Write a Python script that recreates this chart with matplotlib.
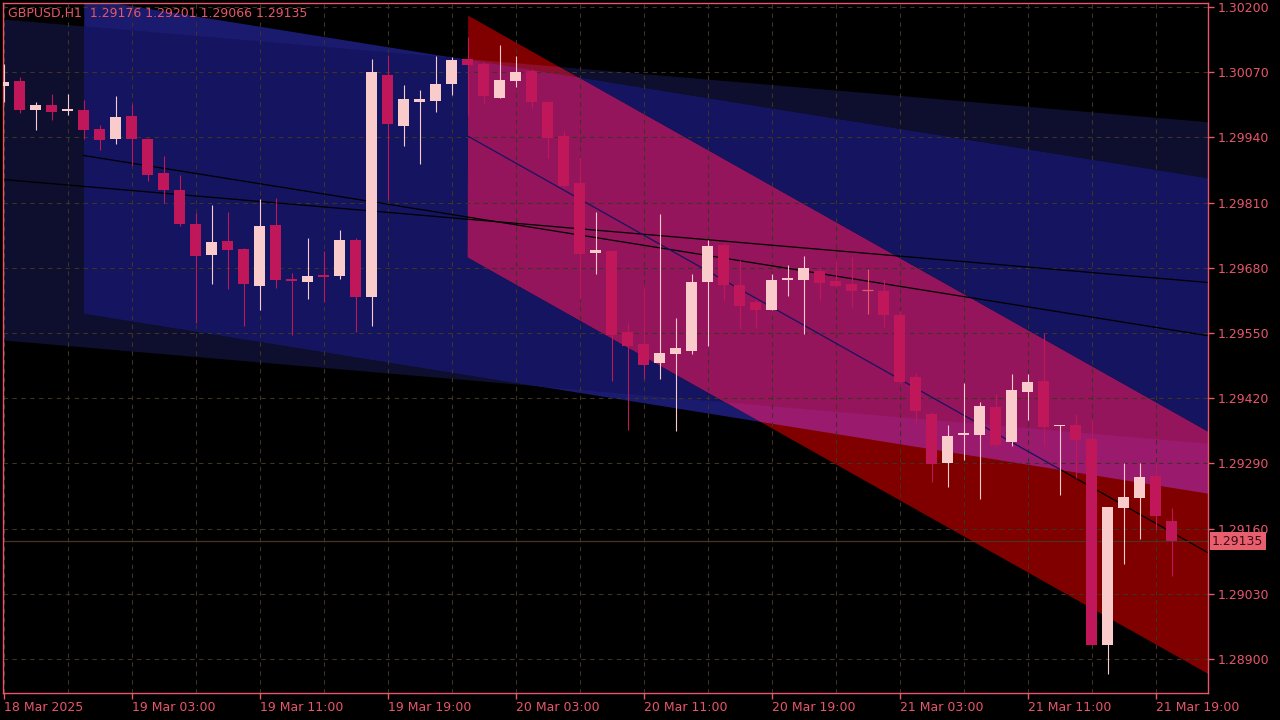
import numpy as np
import matplotlib
matplotlib.use("Agg")
import matplotlib.pyplot as plt
from matplotlib.ticker import MultipleLocator, FixedLocator

# --- data (H1 bars, 18 Mar 2025 19:00 -> 21 Mar 2025 20:00) ---
symbol = "GBPUSD,H1"

opens = [1.30043, 1.30052, 1.29995, 1.30005, 1.29993, 1.29995, 1.29957, 1.29937, 1.29983, 1.29937,
         1.29869, 1.29835, 1.29767, 1.29706, 1.29733, 1.29718, 1.29644, 1.29765, 1.29658, 1.29652,
         1.29666, 1.29664, 1.29735, 1.29622, 1.30064, 1.29963, 1.30011, 1.30013, 1.30047, 1.30096,
         1.30086, 1.30019, 1.30052, 1.30072, 1.30011, 1.29943, 1.29849, 1.29710, 1.29714, 1.29552,
         1.29528, 1.29490, 1.29508, 1.29514, 1.29652, 1.29726, 1.29646, 1.29612, 1.29596, 1.29656,
         1.29656, 1.29674, 1.29654, 1.29648, 1.29635, 1.29634, 1.29586, 1.29462, 1.29388, 1.29291,
         1.29347, 1.29347, 1.29402, 1.29333, 1.29432, 1.29454, 1.29364, 1.29367, 1.29339, 1.28928,
         1.29201, 1.29221, 1.29265, 1.29176]
highs = [1.30086, 1.30060, 1.30011, 1.30027, 1.30027, 1.30015, 1.29965, 1.30023, 1.30007, 1.29939,
         1.29903, 1.29865, 1.29789, 1.29805, 1.29791, 1.29720, 1.29817, 1.29819, 1.29670, 1.29739,
         1.29714, 1.29755, 1.29739, 1.30096, 1.30104, 1.30045, 1.30035, 1.30102, 1.30100, 1.30140,
         1.30090, 1.30124, 1.30102, 1.30076, 1.30012, 1.29953, 1.29901, 1.29791, 1.29716, 1.29570,
         1.29640, 1.29787, 1.29580, 1.29668, 1.29735, 1.29730, 1.29696, 1.29618, 1.29668, 1.29686,
         1.29704, 1.29680, 1.29694, 1.29702, 1.29678, 1.29658, 1.29594, 1.29470, 1.29392, 1.29367,
         1.29450, 1.29412, 1.29428, 1.29468, 1.29468, 1.29550, 1.29367, 1.29388, 1.29377, 1.29203,
         1.29291, 1.29291, 1.29289, 1.29201]
lows = [1.30011, 1.29989, 1.29955, 1.29975, 1.29985, 1.29937, 1.29915, 1.29927, 1.29885, 1.29853,
        1.29809, 1.29763, 1.29570, 1.29648, 1.29638, 1.29564, 1.29596, 1.29640, 1.29546, 1.29618,
        1.29612, 1.29658, 1.29552, 1.29564, 1.29815, 1.29923, 1.29887, 1.29991, 1.30025, 1.29985,
        1.30009, 1.30018, 1.30041, 1.29999, 1.29899, 1.29842, 1.29618, 1.29668, 1.29454, 1.29357,
        1.29458, 1.29458, 1.29355, 1.29508, 1.29524, 1.29616, 1.29558, 1.29560, 1.29595, 1.29624,
        1.29548, 1.29616, 1.29642, 1.29602, 1.29588, 1.29562, 1.29450, 1.29371, 1.29253, 1.29243,
        1.29297, 1.29219, 1.29321, 1.29325, 1.29377, 1.29325, 1.29227, 1.29261, 1.28927, 1.28870,
        1.29089, 1.29139, 1.29157, 1.29066]
closes = [1.30050, 1.29995, 1.30005, 1.29991, 1.29997, 1.29955, 1.29935, 1.29981, 1.29937, 1.29865,
          1.29835, 1.29767, 1.29704, 1.29731, 1.29716, 1.29648, 1.29763, 1.29656, 1.29654, 1.29664,
          1.29662, 1.29735, 1.29622, 1.30070, 1.29967, 1.30017, 1.30017, 1.30047, 1.30094, 1.30084,
          1.30023, 1.30055, 1.30070, 1.30011, 1.29939, 1.29843, 1.29708, 1.29716, 1.29546, 1.29524,
          1.29486, 1.29510, 1.29520, 1.29652, 1.29724, 1.29646, 1.29604, 1.29596, 1.29656, 1.29660,
          1.29680, 1.29650, 1.29644, 1.29634, 1.29635, 1.29586, 1.29452, 1.29394, 1.29289, 1.29345,
          1.29351, 1.29404, 1.29327, 1.29436, 1.29452, 1.29363, 1.29365, 1.29337, 1.28928, 1.29203,
          1.29223, 1.29263, 1.29185, 1.29135]

time_labels = ["18 Mar 2025", "19 Mar 03:00", "19 Mar 11:00", "19 Mar 19:00", "20 Mar 03:00",
               "20 Mar 11:00", "20 Mar 19:00", "21 Mar 03:00", "21 Mar 11:00", "21 Mar 19:00"]
price_ticks = [1.28900, 1.29030, 1.29160, 1.29290, 1.29420, 1.29550,
               1.29680, 1.29810, 1.29940, 1.30070, 1.30200]

# regression channels: first bar, two anchor bars, upper/lower prices at the anchors
chan_from = [-1, 5, 29]
chan_bar0 = [0, 5, 29]
chan_bar1 = [75, 75, 75]
chan_up0 = [1.30176, 1.30218, 1.30184]
chan_up1 = [1.29972, 1.29860, 1.29358]
chan_lo0 = [1.29536, 1.29590, 1.29702]
chan_lo1 = [1.29331, 1.29232, 1.28876]

# --- style ---
bg = "black"
fg = "#E8566A"
grid_c = "#3C3424"
bull_c = "#F9CBCB"
bear_c = "#C0165A"
doji_c = "#E8566A"
c1, c2, c12 = "#0E0E2E", "#1A1A6E", "#141460"
c3, c13, c23, c123 = "#800000", "#8E0E2E", "#9A1A6E", "#95155C"

x_left, x_right = -0.03125, 75.28125
y_bot, y_top = 1.288322, 1.30208

fig = plt.figure(figsize=(12.8, 7.2), dpi=100, facecolor=bg)
ax = fig.add_axes([3 / 1280, 27 / 720, 1205 / 1280, 690 / 720], facecolor=bg)
ax.set_xlim(x_left, x_right)
ax.set_ylim(y_bot, y_top)

# channels
xs = np.linspace(x_left, x_right, 4000)
ups, los, masks = [], [], []
for f, b0, b1, u0, u1, l0, l1 in zip(chan_from, chan_bar0, chan_bar1, chan_up0, chan_up1, chan_lo0, chan_lo1):
    ups.append(u0 + (u1 - u0) * (xs - b0) / (b1 - b0))
    los.append(l0 + (l1 - l0) * (xs - b0) / (b1 - b0))
    masks.append(xs >= f)


def band(idx, color):
    lo = np.max([los[i] for i in idx], axis=0)
    hi = np.min([ups[i] for i in idx], axis=0)
    m = np.all([masks[i] for i in idx], axis=0) & (lo < hi)
    ax.fill_between(xs, lo, hi, where=m, color=color, lw=0, interpolate=True, zorder=1)


for idx, col in [((0,), c1), ((1,), c2), ((0, 1), c12), ((2,), c3),
                 ((0, 2), c13), ((1, 2), c23), ((0, 1, 2), c123)]:
    band(idx, col)

# channel midlines
for i in range(2):
    mid = (ups[i] + los[i]) / 2
    ax.plot(xs[masks[i]], mid[masks[i]], color="black", lw=0.9, zorder=2)
mid3 = (ups[2] + los[2]) / 2
inside = masks[2] & (mid3 > los[1])
outside = masks[2] & (mid3 <= los[1])
ax.plot(xs, np.where(inside, mid3, np.nan), color=c12, lw=0.9, zorder=2)
ax.plot(xs, np.where(outside, mid3, np.nan), color="black", lw=0.9, zorder=2)

# grid
ax.set_axisbelow("line")
ax.xaxis.set_major_locator(FixedLocator(np.arange(0, len(opens), 8)))
ax.xaxis.set_minor_locator(MultipleLocator(4))
ax.yaxis.set_major_locator(FixedLocator(price_ticks))
ax.grid(True, which="both", axis="x", color=grid_c, lw=0.8, linestyle=(0, (4, 4)))
ax.grid(True, which="major", axis="y", color=grid_c, lw=0.8, linestyle=(0, (4, 4)))

# bid line
ax.axhline(closes[-1], color="#4A3420", lw=0.9, zorder=2)

# candles
o = np.array(opens)
h = np.array(highs)
l = np.array(lows)
c = np.array(closes)
k = np.arange(len(o))
w = 11 / 16
up = c > o
dn = c < o
dj = c == o
wick_cols = np.where(up, bull_c, np.where(dn, bear_c, doji_c))
ax.vlines(k, l, h, colors=wick_cols, lw=0.8, zorder=3)
body = np.maximum(np.abs(c - o), 0.00002)
ax.bar(k[up], body[up], bottom=o[up], width=w, color=bull_c, lw=0, zorder=4)
ax.bar(k[dn], body[dn], bottom=c[dn], width=w, color=bear_c, lw=0, zorder=4)
ax.hlines(c[dj], k[dj] - w / 2, k[dj] + w / 2, colors=doji_c, lw=0.9, zorder=4)

# axes styling
for s in ax.spines.values():
    s.set_color(fg)
    s.set_linewidth(1)
ax.yaxis.tick_right()
ax.yaxis.set_major_formatter(plt.FuncFormatter(lambda v, p: f"{v:.5f}"))
ax.set_xticklabels(time_labels)
for t in ax.get_xticklabels():
    t.set_horizontalalignment("left")
ax.tick_params(axis="both", which="major", colors=fg, labelcolor=fg, labelsize=9, length=4, width=1)
ax.tick_params(axis="x", which="minor", length=0)
ax.tick_params(axis="x", pad=2)
ax.tick_params(axis="y", pad=3)

# last price label
ax.annotate(f"{closes[-1]:.5f}", xy=(1, closes[-1]), xycoords=("axes fraction", "data"),
            xytext=(3, 0), textcoords="offset points", ha="left", va="center",
            fontsize=9, color="#3A0A18",
            bbox=dict(boxstyle="square,pad=0.2", fc="#E8606E", ec="none"),
            annotation_clip=False, zorder=10)

# header
fig.text(8 / 1280, 1 - 13 / 720,
         f"{symbol}  {opens[-1]:.5f} {highs[-1]:.5f} {lows[-1]:.5f} {closes[-1]:.5f}",
         color=fg, fontsize=9, ha="left", va="center")

fig.savefig("out.png", dpi=100, facecolor=bg)
